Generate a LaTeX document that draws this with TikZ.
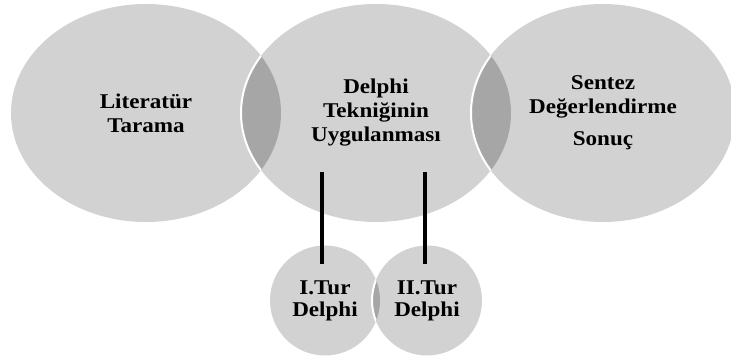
\documentclass[tikz,border=0pt]{standalone}
\usepackage{fontspec}
\setmainfont{Liberation Serif}[FakeStretch=1.1]
\usepackage{tikz}
\usetikzlibrary{shapes.geometric, positioning}
\definecolor{circgray}{RGB}{210,210,210}
\definecolor{lensgray}{RGB}{166,166,166}
\tikzstyle{phase} = [ellipse, fill=circgray, inner sep=0pt, minimum width=270pt, minimum height=218pt, text centered, align=center, font=\bfseries\fontsize{21}{24}\selectfont]
\tikzstyle{tur} = [ellipse, fill=circgray, inner sep=0pt, minimum width=110pt, minimum height=110pt, text centered, align=center, font=\bfseries\fontsize{21}{22}\selectfont]
\tikzstyle{bar} = [line width=4pt]
\tikzstyle{cut} = [draw=white, line width=2pt]
\begin{document}
\begin{tikzpicture}[x=1pt, y=-1pt]
	\useasboundingbox (0,0) rectangle (731,358);
	\node (lit) [phase] at (146,113) {Literatür\\Tarama};
	\node (tek) [phase, right of=lit, node distance=230pt] {Delphi\\Tekniğinin\\Uygulanması};
	\node (sen) [phase, right of=tek, node distance=227pt, minimum width=264pt] {Sentez\\Değerlendirme\\[8pt]Sonuç};
	\node (tur1) [tur] at (325,300.5) {I.Tur\\Delphi};
	\node (tur2) [tur, right of=tur1, node distance=102pt] {II.Tur\\Delphi};

	% Overlaps
	\begin{scope}
		\clip (lit.center) ellipse (135pt and 109pt);
		\fill[lensgray] (tek.center) ellipse (135pt and 109pt);
		\draw[cut] (tek.center) ellipse (135pt and 109pt);
	\end{scope}
	\begin{scope}
		\clip (tek.center) ellipse (135pt and 109pt);
		\fill[lensgray] (sen.center) ellipse (132pt and 109pt);
		\draw[cut] (sen.center) ellipse (132pt and 109pt);
	\end{scope}
	\begin{scope}
		\clip (tur1.center) ellipse (55pt and 55pt);
		\fill[lensgray] (tur2.center) ellipse (55pt and 55pt);
		\draw[cut] (tur2.center) ellipse (55pt and 55pt);
	\end{scope}

	% Draw edges
	\coordinate (top1) at (321.5,172);
	\coordinate (end1) at (321.5,264);
	\coordinate (top2) at (425,172);
	\coordinate (end2) at (425,264);
	\draw[bar] (top1) -- (end1);
	\draw[bar] (top2) -- (end2);
\end{tikzpicture}
\end{document}
